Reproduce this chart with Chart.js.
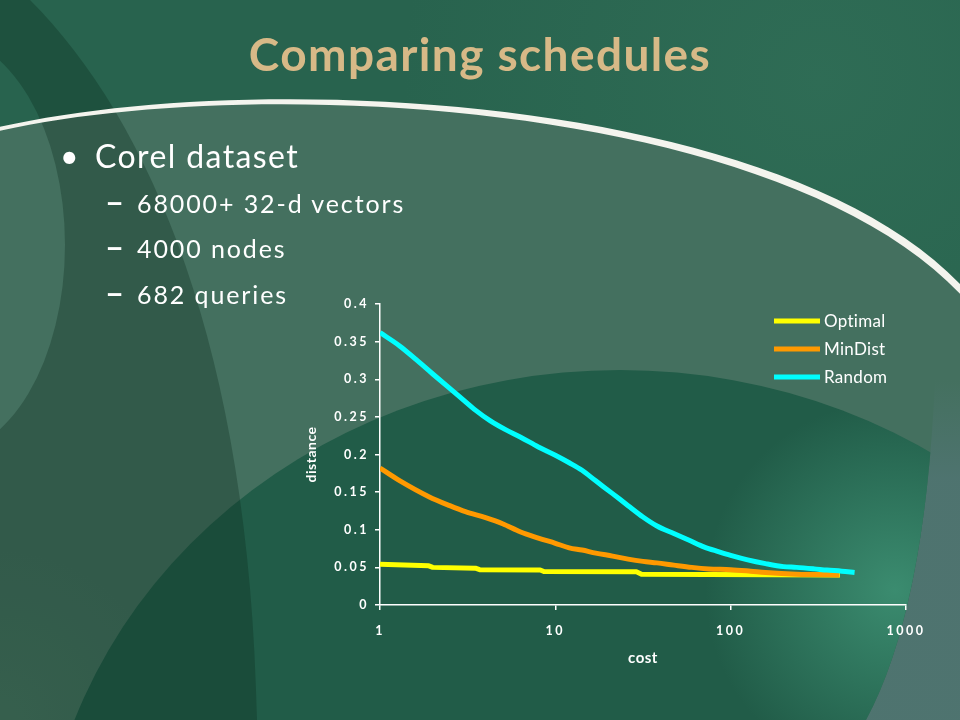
<!DOCTYPE html>
<html>
<head>
<meta charset="utf-8">
<script src="https://cdn.jsdelivr.net/npm/chart.js@4.4.1/dist/chart.umd.min.js"></script>
<style>
  html, body { margin:0; padding:0; background:#28634e; }
  #wrap { position:relative; width:960px; height:720px; overflow:hidden; }
  #c { position:absolute; left:0; top:0; }
  .t { position:absolute; white-space:nowrap; font-family:Lato, "Open Sans", sans-serif; line-height:1; }
  #title { color:#d7b987; font-size:46px; font-weight:700; left:0; width:960px; text-align:center; letter-spacing:1.4px; }
  .b1 { color:#fff; font-size:32px; letter-spacing:1.4px; }
  .b2 { color:#fff; font-size:25px; letter-spacing:1.9px; }
  .dash { color:#fff; font-size:33px; font-weight:700; }
</style>
</head>
<body>
<div id="wrap">
  <canvas id="c" width="960" height="720"></canvas>
  <div class="t" id="title" style="top:31px">Comparing schedules</div>
  <div class="t b1" style="left:60px;top:140px">•</div>
  <div class="t b1" style="left:95px;top:140px">Corel dataset</div>
  <div class="t dash" style="left:105px;top:184px">–</div>
  <div class="t b2" style="left:137px;top:191px">68000+ 32-d vectors</div>
  <div class="t dash" style="left:105px;top:229px">–</div>
  <div class="t b2" style="left:137px;top:236px">4000 nodes</div>
  <div class="t dash" style="left:105px;top:275px">–</div>
  <div class="t b2" style="left:137px;top:282px">682 queries</div>
</div>
<script>
// ---- data ----
const seriesNames = ['Optimal', 'MinDist', 'Random'];
const xTickValues = [1, 10, 100, 1000];
const xTitle = 'cost';
const yTitle = 'distance';

const optimalCost = [1, 1.9, 2.0, 3.5, 3.7, 8.2, 8.6, 29, 31, 420];
const optimalDist = [0.054, 0.052, 0.050, 0.049, 0.047, 0.0465, 0.0445, 0.0442, 0.041, 0.040];

const minDistCost = [1, 1.3, 1.9, 2.5, 3.07, 4, 5, 6.34, 8, 10, 12, 14.2, 17, 21.2, 26, 31.6, 38, 47.4, 60, 75, 100, 130, 158, 237, 300, 417];
const minDistDist = [0.182, 0.165, 0.144, 0.132, 0.124, 0.116, 0.108, 0.097, 0.089, 0.082, 0.076, 0.073, 0.069, 0.065, 0.061, 0.058, 0.056, 0.053, 0.050, 0.048, 0.047, 0.045, 0.0433, 0.041, 0.0405, 0.040];

const randomCost = [1, 1.3, 1.61, 2.0, 2.84, 3.5, 4.24, 5.2, 6.34, 8, 10, 12, 14.2, 17, 21.2, 26, 31.6, 38, 47.4, 58, 70.8, 85, 100, 125, 158, 200, 237, 300, 354, 430, 509];
const randomDist = [0.362, 0.344, 0.326, 0.307, 0.277, 0.259, 0.245, 0.233, 0.223, 0.210, 0.199, 0.189, 0.179, 0.165, 0.148, 0.132, 0.117, 0.105, 0.095, 0.086, 0.077, 0.071, 0.066, 0.060, 0.055, 0.051, 0.050, 0.048, 0.0464, 0.045, 0.0433];

const seriesColors = ['#ffff00', '#ff9900', '#00ffff'];

function pts(costs, dists) { return costs.map((x, i) => ({ x: x, y: dists[i] })); }

// ---- slide background ----
function drawBackground(ctx) {
  ctx.save();
  ctx.fillStyle = '#28634e';
  ctx.fillRect(0, 0, 960, 720);
  let g = ctx.createRadialGradient(820, 80, 0, 820, 80, 420);
  g.addColorStop(0, 'rgba(70,140,110,0.22)');
  g.addColorStop(1, 'rgba(70,140,110,0)');
  ctx.fillStyle = g; ctx.fillRect(0, 0, 960, 720);

  // light region below the white swoosh
  ctx.beginPath();
  ctx.moveTo(0, 130);
  ctx.bezierCurveTo(250, 70, 780, 95, 960, 291);
  ctx.lineTo(960, 720); ctx.lineTo(0, 720); ctx.closePath();
  ctx.fillStyle = '#44705f'; ctx.fill();
  g = ctx.createRadialGradient(0, 720, 0, 0, 720, 170);
  g.addColorStop(0, 'rgba(80,130,105,0.45)');
  g.addColorStop(1, 'rgba(80,130,105,0)');
  ctx.fillStyle = g; ctx.fillRect(0, 500, 200, 220);

  // grey shape at the right edge
  ctx.beginPath();
  ctx.moveTo(935, 380);
  ctx.quadraticCurveTo(925, 610, 866, 720);
  ctx.lineTo(960, 720); ctx.lineTo(960, 380); ctx.closePath();
  g = ctx.createLinearGradient(0, 380, 0, 480);
  g.addColorStop(0, 'rgba(80,116,114,0)');
  g.addColorStop(1, 'rgba(80,116,114,0.85)');
  ctx.fillStyle = g; ctx.fill();

  // darker lower arc with teal glow at its right side
  ctx.save();
  ctx.beginPath();
  ctx.ellipse(620, 900, 580, 530, 0, 0, Math.PI * 2);
  ctx.clip();
  ctx.beginPath();
  ctx.rect(0, 0, 960, 720);
  ctx.moveTo(935, 380);
  ctx.quadraticCurveTo(925, 610, 866, 720);
  ctx.lineTo(960, 720); ctx.lineTo(960, 380); ctx.closePath();
  ctx.fillStyle = '#215c48'; ctx.fill('evenodd');
  g = ctx.createRadialGradient(895, 590, 0, 895, 590, 190);
  g.addColorStop(0, 'rgba(70,160,128,0.7)');
  g.addColorStop(1, 'rgba(70,160,128,0)');
  ctx.fillStyle = g; ctx.fill('evenodd');
  ctx.restore();

  // dark left swoosh band (with lighter circle cut out)
  ctx.beginPath();
  ctx.moveTo(0, 0); ctx.lineTo(30, 0);
  ctx.bezierCurveTo(150, 120, 250, 350, 257, 720);
  ctx.lineTo(0, 720); ctx.closePath();
  ctx.ellipse(-60, 245, 125, 210, 0, 0, Math.PI * 2);
  ctx.fillStyle = 'rgba(10,40,25,0.3)';
  ctx.fill('evenodd');

  // white swoosh, thicker towards the right
  ctx.beginPath();
  ctx.moveTo(-5, 128);
  ctx.bezierCurveTo(250, 68, 780, 93, 962, 286);
  ctx.lineTo(962, 296);
  ctx.bezierCurveTo(780, 100, 250, 73, -5, 132);
  ctx.closePath();
  ctx.fillStyle = '#f4f4ee'; ctx.fill();
  ctx.restore();
}

const bgPlugin = {
  id: 'slideBg',
  beforeDraw(chart) {
    drawBackground(chart.ctx);
    chart.ctx.letterSpacing = '2.5px';
  },
  afterDraw(chart) {
    const ctx = chart.ctx;
    const a = chart.chartArea;
    ctx.save();
    // axis titles
    ctx.letterSpacing = '0.5px';
    ctx.fillStyle = '#ffffff';
    ctx.font = 'bold 15px Lato';
    ctx.textAlign = 'center'; ctx.textBaseline = 'middle';
    ctx.fillText(xTitle, (a.left + a.right) / 2, 658);
    ctx.save();
    ctx.translate(311, (a.top + a.bottom) / 2);
    ctx.rotate(-Math.PI / 2);
    ctx.font = 'bold 14px Lato';
    ctx.fillText(yTitle, 0, 0);
    ctx.restore();
    // legend
    ctx.letterSpacing = '0.3px';
    ctx.textAlign = 'left';
    chart.data.datasets.forEach((ds, i) => {
      const y = 321 + i * 28;
      ctx.strokeStyle = ds.borderColor; ctx.lineWidth = 5;
      ctx.beginPath(); ctx.moveTo(774, y); ctx.lineTo(820, y); ctx.stroke();
      ctx.fillStyle = '#ffffff'; ctx.font = '17px Lato'; ctx.textBaseline = 'middle';
      ctx.fillText(ds.label, 824, y + 1);
    });
    ctx.restore();
    ctx.letterSpacing = '0px';
  }
};

const datasets = [
  { label: seriesNames[0], data: pts(optimalCost, optimalDist), order: 3 },
  { label: seriesNames[1], data: pts(minDistCost, minDistDist), order: 2, cubicInterpolationMode: 'monotone' },
  { label: seriesNames[2], data: pts(randomCost, randomDist), order: 1, cubicInterpolationMode: 'monotone' }
].map((d, i) => Object.assign(d, {
  borderColor: seriesColors[i], backgroundColor: seriesColors[i],
  borderWidth: 5, pointRadius: 0, fill: false, borderJoinStyle: 'round'
}));

new Chart(document.getElementById('c'), {
  type: 'line',
  data: { datasets: datasets },
  plugins: [bgPlugin],
  options: {
    responsive: false, animation: false, devicePixelRatio: 1,
    layout: { padding: { left: 300, top: 304, right: 54, bottom: 50 } },
    plugins: { legend: { display: false }, tooltip: { enabled: false } },
    scales: {
      x: {
        type: 'logarithmic', min: 1, max: 1000,
        afterBuildTicks: s => { s.ticks = xTickValues.map(v => ({ value: v })); },
        afterFit: s => { s.height = 65; },
        ticks: { color: '#ffffff', font: { family: 'Lato', size: 12.5, weight: 'bold' }, padding: 13, maxRotation: 0, callback: v => String(v) },
        grid: { drawOnChartArea: false, drawTicks: true, tickLength: 5, color: '#ffffff', lineWidth: 1.5 },
        border: { color: '#ffffff', width: 1.5 },
        title: { display: false }
      },
      y: {
        type: 'linear', min: 0, max: 0.4,
        afterFit: s => { s.width = 80; },
        ticks: { stepSize: 0.05, color: '#ffffff', font: { family: 'Lato', size: 12.5, weight: 'bold' }, padding: 6,
                 callback: v => String(Math.round(v * 100) / 100) },
        grid: { drawOnChartArea: false, drawTicks: true, tickLength: 5, color: '#ffffff', lineWidth: 1.5 },
        border: { color: '#ffffff', width: 1.5 },
        title: { display: false }
      }
    }
  }
});
</script>
</body>
</html>
